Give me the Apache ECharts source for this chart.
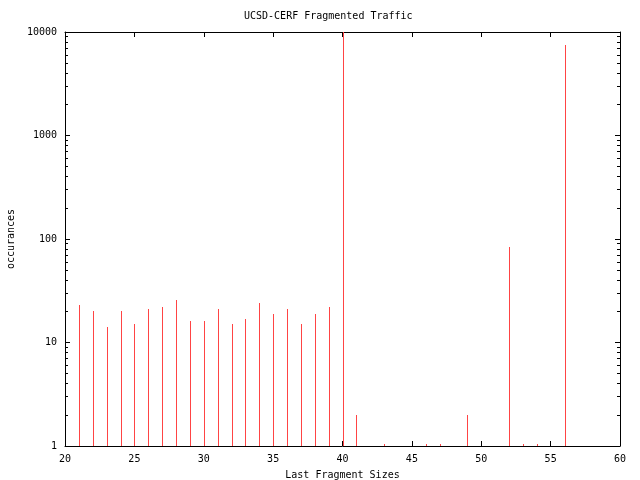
<!DOCTYPE html>
<html>
<head>
<meta charset="utf-8">
<script src="https://cdn.jsdelivr.net/npm/echarts@6/dist/echarts.min.js"></script>
<style>html,body{margin:0;padding:0;background:#fff}#c{width:640px;height:480px}</style>
</head>
<body>
<div id="c"></div>
<script>
const fragSizes = [21,22,23,24,25,26,27,28,29,30,31,32,33,34,35,36,37,38,39,40,41,43,46,47,49,52,53,54,56];
const occurrences = [23,20,14,20,15,21,22,26,16,16,21,15,17,24,19,21,15,19,22,10000,2,1,1,1,2,84,1,1,7500];
const xTicks = [20,25,30,35,40,45,50,55,60];
const yTicks = [1,10,100,1000,10000];
const minorTickValues = [];
for (let d = 0; d < 4; d++) for (let k = 2; k <= 9; k++) minorTickValues.push(d + Math.log10(k));

const FONT = 'DejaVu Sans Mono';
const chart = echarts.init(document.getElementById('c'), null, {renderer: 'canvas'});
const frame = {show: true, lineStyle: {color: '#000', width: 1}};
const gridBox = {left: 65, right: 20, top: 32, bottom: 34, containLabel: false, outerBoundsMode: 'none'};
const logBase = {type: 'log', logBase: 10, min: 1, max: 10000, splitLine: {show: false}, axisLine: frame, gridIndex: 0};
const minorBase = {type: 'value', gridIndex: 1, min: 0, max: 4, splitLine: {show: false}, axisLine: {show: false},
  axisLabel: {show: false}, axisTick: {inside: true, length: 3, customValues: minorTickValues, lineStyle: {color: '#000'}}};
const hiddenX = {type: 'value', gridIndex: 1, min: 20, max: 60, show: false};

function renderImpulse(params, api) {
  const x = api.value(0), v = api.value(1);
  const top = api.coord([x, v]);
  const base = api.coord([x, 1]);
  const px = Math.round(top[0]) + 0.5;
  let y1 = Math.round(top[1]);
  const y0 = Math.round(base[1]);
  if (y0 - y1 < 2) y1 = y0 - 2;
  return {
    type: 'line',
    shape: {x1: px, y1: y0, x2: px, y2: y1},
    style: {stroke: '#ff4444', lineWidth: 1}
  };
}

chart.setOption({
  animation: false,
  backgroundColor: '#fff',
  title: {text: 'UCSD-CERF Fragmented Traffic', left: 244, top: 11, padding: 0,
    textStyle: {fontFamily: FONT, fontSize: 10, fontWeight: 'normal', color: '#000'}},
  grid: [gridBox, Object.assign({}, gridBox)],
  xAxis: [
    {type: 'value', gridIndex: 0, min: 20, max: 60, interval: 5, position: 'bottom',
     name: 'Last Fragment Sizes', nameLocation: 'middle', nameGap: 24,
     nameTextStyle: {fontFamily: FONT, fontSize: 10, color: '#000'},
     axisLine: frame, splitLine: {show: false},
     axisTick: {inside: true, length: 5, lineStyle: {color: '#000'}},
     axisLabel: {fontFamily: FONT, fontSize: 10, color: '#000', margin: 8, customValues: xTicks}},
    {type: 'value', gridIndex: 0, min: 20, max: 60, interval: 5, position: 'top',
     axisLine: frame, splitLine: {show: false}, axisLabel: {show: false},
     axisTick: {inside: true, length: 5, lineStyle: {color: '#000'}}},
    hiddenX
  ],
  yAxis: [
    Object.assign({}, logBase, {position: 'left', name: 'occurances', nameLocation: 'middle', nameGap: 49,
      nameTextStyle: {fontFamily: FONT, fontSize: 10, color: '#000'},
      axisTick: {inside: true, length: 5, lineStyle: {color: '#000'}},
      axisLabel: {fontFamily: FONT, fontSize: 10, color: '#000', margin: 8, formatter: v => String(v)}}),
    Object.assign({}, logBase, {position: 'right', axisLabel: {show: false},
      axisTick: {inside: true, length: 5, lineStyle: {color: '#000'}}}),
    Object.assign({}, minorBase, {position: 'left'}),
    Object.assign({}, minorBase, {position: 'right'})
  ],
  series: [{
    type: 'custom', xAxisIndex: 0, yAxisIndex: 0,
    data: fragSizes.map((x, i) => [x, occurrences[i]]),
    renderItem: renderImpulse,
    clip: true
  }]
});
</script>
</body>
</html>
